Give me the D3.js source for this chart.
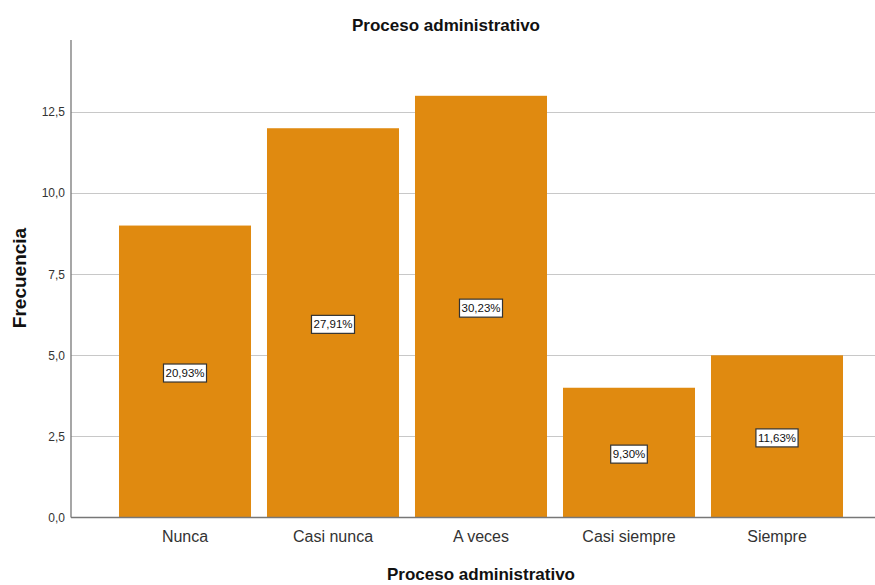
<!DOCTYPE html>
<html><head><meta charset="utf-8">
<script src="https://cdn.jsdelivr.net/npm/d3@7"></script>
<style>body{margin:0;background:#fff}svg{display:block;font-family:"Liberation Sans",Arial,sans-serif}</style>
</head><body><svg id="c" width="875" height="585"></svg>
<script>
const categories = ["Nunca","Casi nunca","A veces","Casi siempre","Siempre"];
const frequencies = [9,12,13,4,5];
const percentLabels = ["20,93%","27,91%","30,23%","9,30%","11,63%"];
const yTicks = [0,2.5,5,7.5,10,12.5];
const title = "Proceso administrativo";
const xTitle = "Proceso administrativo";
const yTitle = "Frecuencia";

const svg = d3.select("#c");
const x0 = 71, yBottom = 517.5, yTop = 40;
const y = d3.scaleLinear().domain([0,14.72]).range([yBottom,yTop]);
const x = d3.scaleBand().domain(categories).range([111,851]).paddingInner(0.108).paddingOuter(0.054);

// gridlines
svg.append("g").selectAll("line").data(yTicks.filter(d=>d>0)).join("line")
  .attr("x1",x0).attr("x2",875).attr("y1",d=>Math.round(y(d))+0.5).attr("y2",d=>Math.round(y(d))+0.5)
  .attr("stroke","#c8c8c8").attr("stroke-width",1.2);

// bars
svg.append("g").selectAll("rect").data(frequencies).join("rect")
  .attr("x",(d,i)=>x(categories[i])).attr("width",x.bandwidth())
  .attr("y",d=>y(d)).attr("height",d=>yBottom-y(d))
  .attr("fill","#e08a10");

// axes
const ya = svg.append("g").attr("transform",`translate(${x0},0)`)
  .call(d3.axisLeft(y).tickValues(yTicks).tickSize(0).tickPadding(6).tickFormat(d=>d3.format(".1f")(d).replace(".",",")));
ya.select(".domain").remove();
ya.selectAll("text").attr("font-size",12).attr("fill","#333").attr("font-family","Liberation Sans, Arial, sans-serif");
svg.append("line").attr("x1",x0).attr("x2",x0).attr("y1",yTop).attr("y2",yBottom).attr("stroke","#777").attr("stroke-width",1.3);
svg.append("line").attr("x1",x0).attr("x2",875).attr("y1",yBottom).attr("y2",yBottom).attr("stroke","#777").attr("stroke-width",1.3);

const xa = svg.append("g").attr("transform",`translate(0,${yBottom})`)
  .call(d3.axisBottom(x).tickSize(0).tickPadding(13));
xa.select(".domain").remove();
xa.selectAll("text").attr("font-size",16).attr("fill","#333").attr("font-family","Liberation Sans, Arial, sans-serif");

// percent labels
const lg = svg.append("g").selectAll("g").data(frequencies).join("g")
  .attr("transform",(d,i)=>`translate(${x(categories[i])+x.bandwidth()/2},${(y(d)+yBottom)/2+1.5})`);
lg.append("text").attr("text-anchor","middle").attr("dy","0.35em")
  .attr("font-size",11.5).attr("fill","#111").text((d,i)=>percentLabels[i])
  .each(function(){
    const b=this.getBBox();
    d3.select(this.parentNode).insert("rect","text")
      .attr("x",b.x-2).attr("y",-9).attr("width",b.width+4).attr("height",18)
      .attr("fill","#fff").attr("stroke","#333").attr("stroke-width",1.2);
  });

// titles
svg.append("text").attr("x",446).attr("y",30.5).attr("text-anchor","middle")
  .attr("font-size",17).attr("font-weight","bold").attr("fill","#111").text(title);
svg.append("text").attr("x",481).attr("y",580).attr("text-anchor","middle")
  .attr("font-size",17).attr("font-weight","bold").attr("fill","#111").text(xTitle);
svg.append("text").attr("transform","translate(26,278) rotate(-90)").attr("text-anchor","middle")
  .attr("font-size",19).attr("font-weight","bold").attr("fill","#111").text(yTitle);
</script></body></html>
